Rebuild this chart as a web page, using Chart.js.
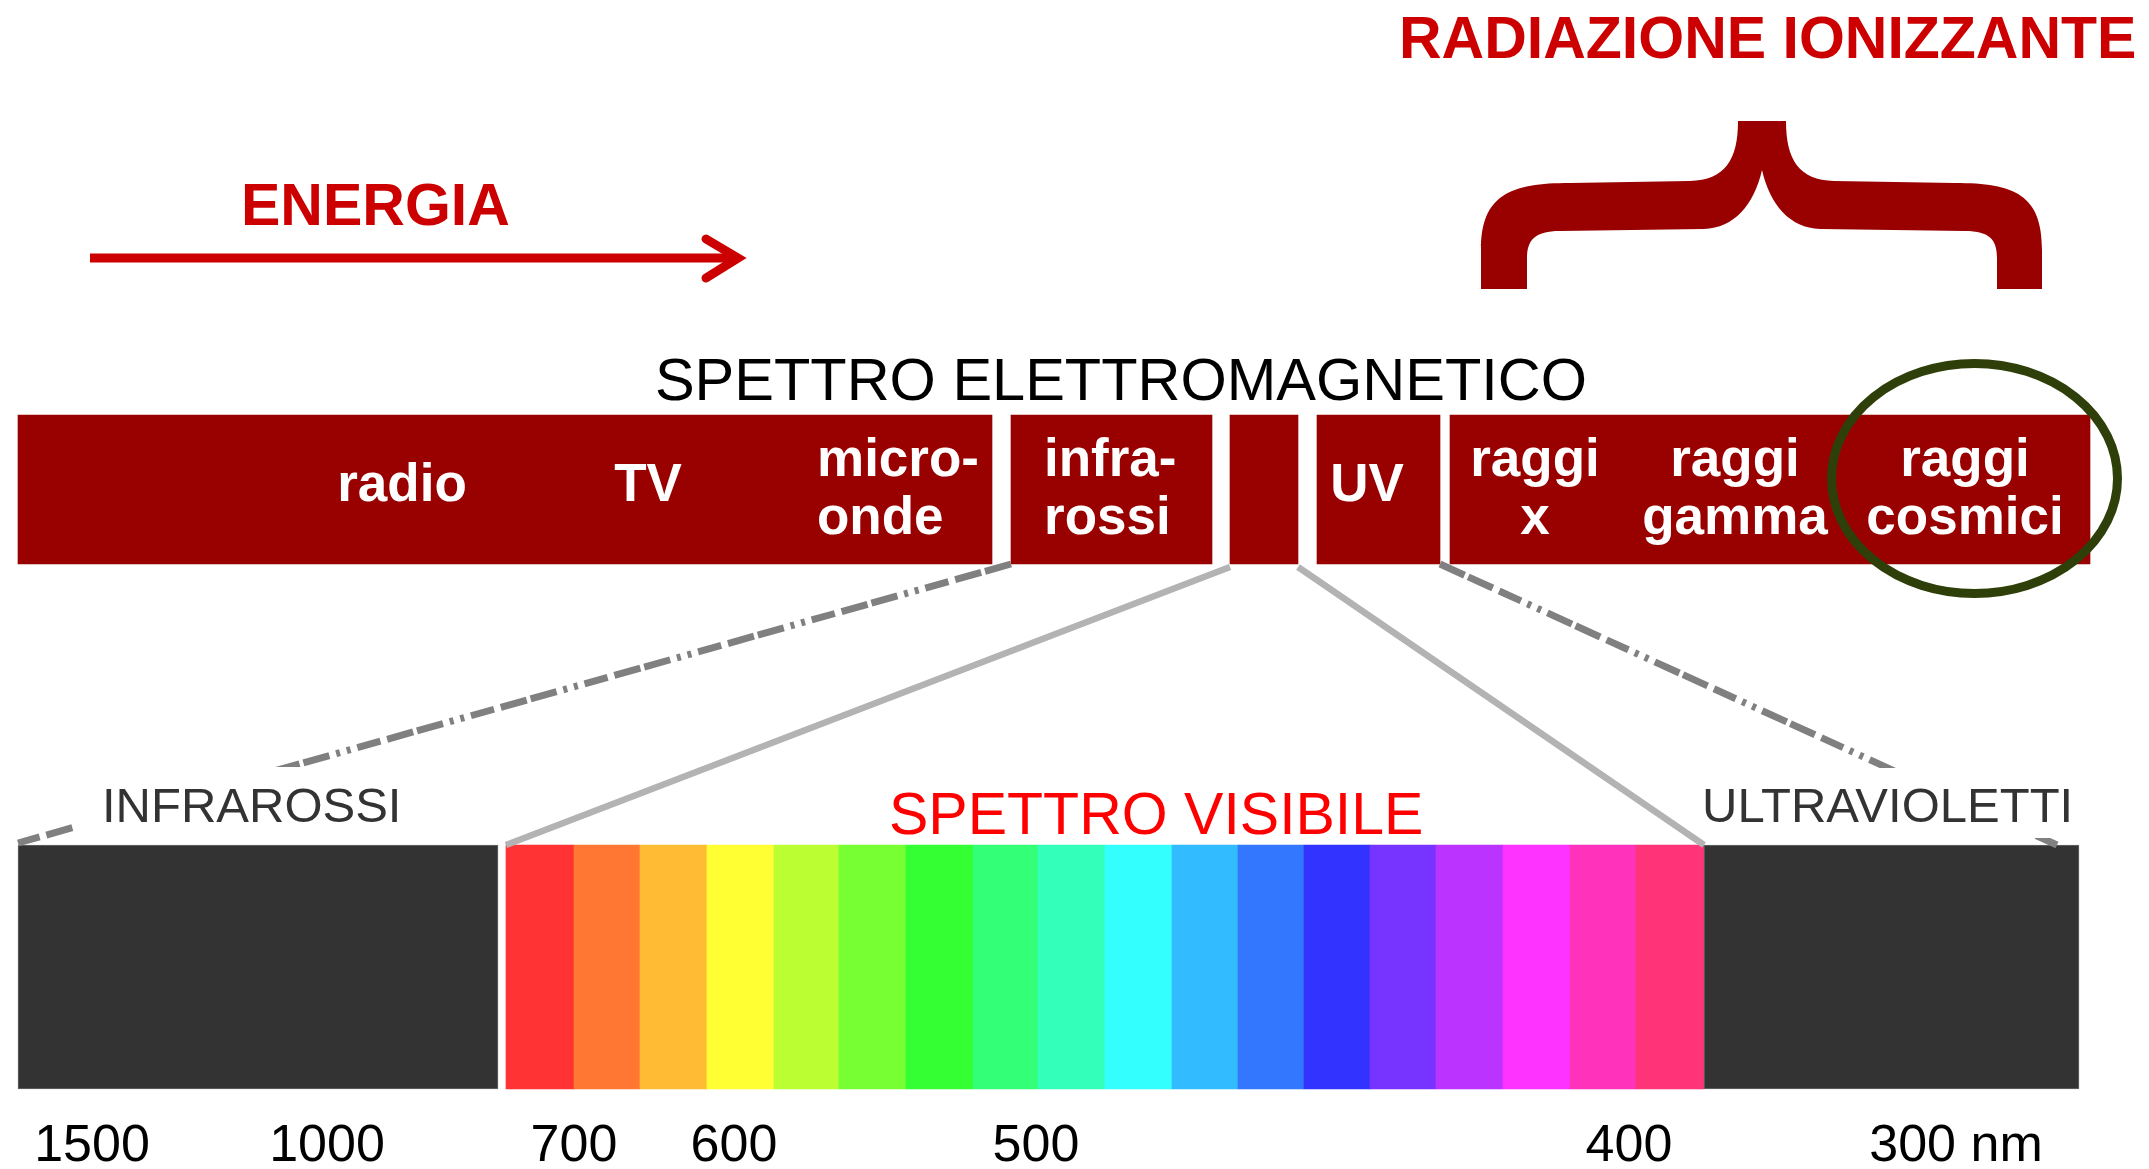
<!DOCTYPE html>
<html>
<head>
<meta charset="utf-8">
<script src="https://cdn.jsdelivr.net/npm/chart.js@4.4.1/dist/chart.umd.min.js"></script>
<style>
  body { margin: 0; background: #fff; }
  #wrap { width: 2149px; height: 1169px; position: relative; }
</style>
</head>
<body>
<div id="wrap"><canvas id="chart"></canvas></div>
<script>
const rows = ["SPETTRO ELETTROMAGNETICO", "SPETTRO VISIBILE"];

// top band segments (start / end along the diagram axis)
const topSegments = ["radio-TV-microonde", "infrarossi", "visibile", "UV", "raggi x-gamma-cosmici"];
const topStart = [18, 1011, 1230, 1317, 1450];
const topEnd = [992, 1212, 1298, 1440, 2090];

const topLabels = [["radio"], ["TV"], ["micro-", "onde"], ["infra-", "rossi"], ["UV"], ["raggi", "x"], ["raggi", "gamma"], ["raggi", "cosmici"]];
const topLabelAt = [402, 648, 817, 1044, 1367, 1535, 1735, 1965];
const topLabelAlign = ["center", "center", "left", "left", "center", "center", "center", "center"];

// dark boxes either side of the visible strip
const darkNames = ["INFRAROSSI", "ULTRAVIOLETTI"];
const darkStart = [18, 1704];
const darkEnd = [498, 2079];

// visible strip, 18 coloured bands
const bandEdges = [506, 574, 640, 707, 774, 839, 906, 973, 1038, 1105, 1172, 1238, 1304, 1370, 1436, 1503, 1570, 1636, 1704];
const bandColors = ["#FF3333", "#FF7733", "#FFBB33", "#FFFF33", "#BBFF33", "#77FF33", "#33FF33", "#33FF77", "#33FFBB",
                    "#33FFFF", "#33BBFF", "#3377FF", "#3333FF", "#7733FF", "#BB33FF", "#FF33FF", "#FF33BB", "#FF3377"];

// wavelength labels under the strip
const tickLabels = ["1500", "1000", "700", "600", "500", "400", "300 nm"];
const tickAt = [92, 327, 574, 734, 1036, 1629, 1956];

const TOP_H = 149, BOT_H = 244;

function drawText(ctx, txt, x, y, font, color, align) {
  ctx.font = font;
  ctx.fillStyle = color;
  ctx.textAlign = align || "left";
  ctx.textBaseline = "alphabetic";
  ctx.fillText(txt, x, y);
}

const decorations = {
  id: "decorations",
  afterDatasetsDraw(chart) {
    const ctx = chart.ctx;
    const xs = chart.scales.x, ys = chart.scales.y;
    const X = v => xs.getPixelForValue(v);
    const topY = ys.getPixelForValue(0), botY = ys.getPixelForValue(1);
    const topBottom = topY + TOP_H / 2;
    const botTop = botY - BOT_H / 2;

    ctx.save();

    // labels inside the red band
    topLabels.forEach((lines, i) => {
      const align = topLabelAlign[i];
      if (lines.length === 1) {
        drawText(ctx, lines[0], X(topLabelAt[i]), topY + 11, 'bold 53px "Liberation Sans", Arial', "#fff", align);
      } else {
        drawText(ctx, lines[0], X(topLabelAt[i]), topY - 14, 'bold 53px "Liberation Sans", Arial', "#fff", align);
        drawText(ctx, lines[1], X(topLabelAt[i]), topY + 44, 'bold 53px "Liberation Sans", Arial', "#fff", align);
      }
    });

    // dash-dot-dot connectors
    ctx.strokeStyle = "#808080";
    ctx.lineWidth = 7;
    ctx.setLineDash([27, 4, 27, 7, 24, 7, 4, 7, 4, 7]);
    ctx.beginPath();
    ctx.moveTo(X(topStart[1]), topBottom);
    ctx.lineTo(X(darkStart[0]), botTop - 2);
    ctx.moveTo(X(topEnd[3]), topBottom);
    ctx.lineTo(X(darkEnd[1]) - 22, botTop);
    ctx.stroke();
    ctx.setLineDash([]);

    // solid connectors to the visible strip
    ctx.strokeStyle = "#B3B3B3";
    ctx.lineWidth = 6.5;
    ctx.beginPath();
    ctx.moveTo(X(topStart[2]), topBottom + 3);
    ctx.lineTo(X(bandEdges[0]), botTop);
    ctx.moveTo(X(topEnd[2]), topBottom + 3);
    ctx.lineTo(X(bandEdges[bandEdges.length - 1]), botTop);
    ctx.stroke();

    // label boxes (white) over the dashed lines
    ctx.fillStyle = "#fff";
    ctx.fillRect(73, 767, 350, 71);
    ctx.fillRect(1700, 768, 354, 70);
    drawText(ctx, darkNames[0], 102, 822, '49px "Liberation Sans", Arial', "#333", "left");
    drawText(ctx, darkNames[1], 1702, 822, '49px "Liberation Sans", Arial', "#333", "left");
    drawText(ctx, rows[1], 889, 834, '59px "Liberation Sans", Arial', "#FF0000", "left");

    // title above the red band
    drawText(ctx, rows[0], 1121, 400, '59.5px "Liberation Sans", Arial', "#000", "center");

    // wavelength ticks
    tickLabels.forEach((t, i) => {
      drawText(ctx, t, X(tickAt[i]), 1161, '52px "Liberation Sans", Arial', "#000", "center");
    });

    // ENERGIA arrow
    drawText(ctx, "ENERGIA", 241, 225, 'bold 59px "Liberation Sans", Arial', "#CC0000", "left");
    ctx.strokeStyle = "#CC0000";
    ctx.lineWidth = 9;
    ctx.lineCap = "butt";
    ctx.beginPath();
    ctx.moveTo(90, 258);
    ctx.lineTo(736, 258);
    ctx.stroke();
    ctx.lineCap = "round";
    ctx.lineJoin = "miter";
    ctx.beginPath();
    ctx.moveTo(706, 239);
    ctx.lineTo(738, 258);
    ctx.lineTo(706, 278);
    ctx.stroke();

    // ionising radiation brace
    drawText(ctx, "RADIAZIONE IONIZZANTE", 1399, 58, 'bold 59px "Liberation Sans", Arial', "#CC0000", "left");
    ctx.fillStyle = "#990000";
    ctx.beginPath();
    ctx.moveTo(1481, 289);
    ctx.lineTo(1481, 250);
    ctx.bezierCurveTo(1481, 195, 1510, 183, 1570, 183);
    ctx.lineTo(1690, 181);
    ctx.bezierCurveTo(1725, 180, 1738, 160, 1738, 121);
    ctx.lineTo(1786, 121);
    ctx.bezierCurveTo(1786, 160, 1799, 180, 1834, 181);
    ctx.lineTo(1955, 183);
    ctx.bezierCurveTo(2015, 183, 2042, 195, 2042, 250);
    ctx.lineTo(2042, 289);
    ctx.lineTo(1997, 289);
    ctx.lineTo(1997, 258);
    ctx.bezierCurveTo(1997, 240, 1990, 231, 1965, 231);
    ctx.lineTo(1820, 229);
    ctx.bezierCurveTo(1790, 228, 1770, 205, 1762, 170);
    ctx.bezierCurveTo(1754, 205, 1734, 228, 1704, 229);
    ctx.lineTo(1560, 231);
    ctx.bezierCurveTo(1535, 231, 1527, 240, 1527, 258);
    ctx.lineTo(1527, 289);
    ctx.closePath();
    ctx.fill();

    // ring around cosmic rays
    ctx.strokeStyle = "#2F3F0A";
    ctx.lineWidth = 9;
    ctx.beginPath();
    ctx.ellipse(1974.5, 478.5, 143, 115, 0, 0, Math.PI * 2);
    ctx.stroke();

    ctx.restore();
  }
};

const topData = topStart.map((s, i) => ({ y: rows[0], x: [s, topEnd[i]] }));
const darkData = darkStart.map((s, i) => ({ y: rows[1], x: [s, darkEnd[i]] }));
const bandData = bandColors.map((c, i) => ({ y: rows[1], x: [bandEdges[i], bandEdges[i + 1]] }));

new Chart(document.getElementById("chart"), {
  type: "bar",
  data: {
    labels: rows,
    datasets: [
      { label: "spettro", data: topData, backgroundColor: "#990000", barThickness: TOP_H, grouped: false, clip: false },
      { label: "IR / UV", data: darkData, backgroundColor: "#333333", borderColor: "#6a6a6a", borderWidth: 1,
        borderSkipped: false, barThickness: BOT_H, grouped: false, clip: false },
      { label: "visibile", data: bandData, backgroundColor: bandColors, barThickness: BOT_H, grouped: false, clip: false }
    ]
  },
  options: {
    indexAxis: "y",
    responsive: true,
    maintainAspectRatio: false,
    animation: false,
    layout: { padding: { top: 489.5, bottom: 202, left: 0, right: 0 } },
    plugins: { legend: { display: false }, tooltip: { enabled: false } },
    scales: {
      x: { type: "linear", min: 0, max: 2149, display: false },
      y: { type: "category", offset: false, display: false }
    }
  },
  plugins: [decorations]
});
</script>
</body>
</html>
